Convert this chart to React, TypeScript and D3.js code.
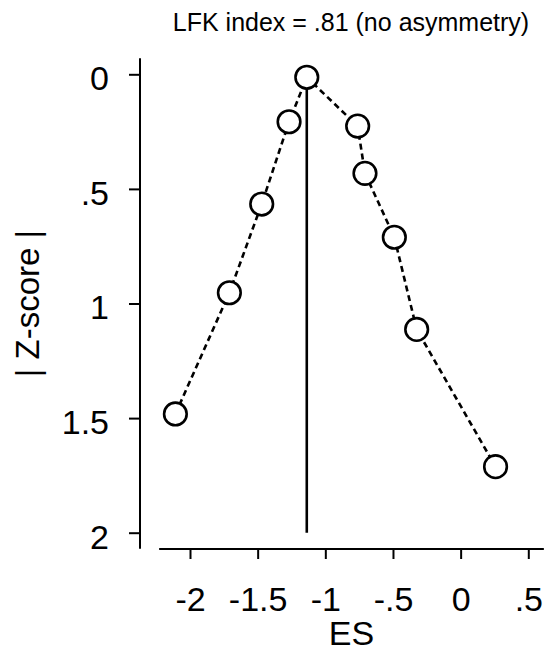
import React, { useRef, useEffect } from 'react';
import * as d3 from 'd3';

// Study effect sizes and |Z-scores| (Doi plot)
const effectSizes = [-2.108, -1.709, -1.470, -1.268, -1.137, -0.761, -0.707, -0.490, -0.325, 0.258];
const zScores = [1.482, 0.953, 0.566, 0.207, 0.013, 0.226, 0.432, 0.711, 1.113, 1.712];

const xTicks = [-2, -1.5, -1, -0.5, 0, 0.5];
const xTickLabels = ['-2', '-1.5', '-1', '-.5', '0', '.5'];
const yTicks = [0, 0.5, 1, 1.5, 2];
const yTickLabels = ['0', '.5', '1', '1.5', '2'];

const title = 'LFK index = .81 (no asymmetry)';
const xLabel = 'ES';
const yLabel = '| Z-score |';

const width = 551;
const height = 658;
const font = "'Liberation Sans', Arial, sans-serif";

function DoiPlot() {
  const svgRef = useRef(null);

  useEffect(() => {
    const svg = d3.select(svgRef.current);
    svg.selectAll('*').remove();

    const x = d3.scaleLinear().domain([-2, 0.5]).range([190, 528.3]);
    const y = d3.scaleLinear().domain([0, 2]).range([74.3, 532.7]);

    // plot region the axis lines span
    const xLo = -2.228, xHi = 0.615;
    const yLo = -0.07, yHi = 2.07;

    svg.append('rect')
      .attr('width', width)
      .attr('height', height)
      .attr('fill', '#fff');

    // y axis
    const yAxis = svg.append('g')
      .attr('transform', `translate(140,0)`)
      .call(d3.axisLeft(y)
        .tickValues(yTicks)
        .tickFormat((d, i) => yTickLabels[i])
        .tickSize(11)
        .tickSizeOuter(0)
        .tickPadding(20));
    yAxis.select('.domain').remove();
    yAxis.append('line')
      .attr('y1', y(yLo))
      .attr('y2', y(yHi))
      .attr('stroke', '#000')
      .attr('stroke-width', 2);
    yAxis.selectAll('line').attr('stroke', '#000').attr('stroke-width', 2);
    yAxis.selectAll('text')
      .attr('fill', '#000')
      .attr('dy', '0.45em')
      .style('font-family', font)
      .style('font-size', '34px');

    // x axis
    const xAxis = svg.append('g')
      .attr('transform', `translate(0,549)`)
      .call(d3.axisBottom(x)
        .tickValues(xTicks)
        .tickFormat((d, i) => xTickLabels[i])
        .tickSize(10)
        .tickSizeOuter(0)
        .tickPadding(28));
    xAxis.select('.domain').remove();
    xAxis.append('line')
      .attr('x1', x(xLo))
      .attr('x2', x(xHi))
      .attr('stroke', '#000')
      .attr('stroke-width', 2);
    xAxis.selectAll('line').attr('stroke', '#000').attr('stroke-width', 2);
    xAxis.selectAll('text')
      .attr('fill', '#000')
      .style('font-family', font)
      .style('font-size', '34px');

    // vertical line at the most precise study
    const topIdx = d3.minIndex(zScores);
    svg.append('line')
      .attr('x1', x(effectSizes[topIdx]))
      .attr('x2', x(effectSizes[topIdx]))
      .attr('y1', y(0))
      .attr('y2', y(2))
      .attr('stroke', '#000')
      .attr('stroke-width', 2.6);

    // dashed line through the studies, sorted by effect size
    const pts = effectSizes.map((es, i) => [es, zScores[i]]).sort((a, b) => a[0] - b[0]);
    const line = d3.line()
      .x(d => x(d[0]))
      .y(d => y(d[1]));
    svg.append('path')
      .datum(pts)
      .attr('fill', 'none')
      .attr('stroke', '#000')
      .attr('stroke-width', 2.6)
      .attr('stroke-dasharray', '6,4')
      .attr('d', line);

    // study markers
    svg.selectAll('.dot')
      .data(pts)
      .enter()
      .append('circle')
      .attr('class', 'dot')
      .attr('cx', d => x(d[0]))
      .attr('cy', d => y(d[1]))
      .attr('r', 11.3)
      .attr('fill', '#fff')
      .attr('stroke', '#000')
      .attr('stroke-width', 2.6);

    // title
    svg.append('text')
      .attr('x', 351)
      .attr('y', 31)
      .attr('text-anchor', 'middle')
      .style('font-family', font)
      .style('font-size', '25px')
      .text(title);

    // x label
    svg.append('text')
      .attr('x', (x(xLo) + x(xHi)) / 2)
      .attr('y', 645)
      .attr('text-anchor', 'middle')
      .style('font-family', font)
      .style('font-size', '34px')
      .text(xLabel);

    // y label
    svg.append('text')
      .attr('transform', 'rotate(-90)')
      .attr('x', -(y(yLo) + y(yHi)) / 2)
      .attr('y', 39)
      .attr('text-anchor', 'middle')
      .style('font-family', font)
      .style('font-size', '33px')
      .text(yLabel);
  }, []);

  return (
    <svg
      ref={svgRef}
      width={width}
      height={height}
      style={{ position: 'absolute', left: 0, top: 0, display: 'block' }}
    ></svg>
  );
}

export default function App() {
  return <DoiPlot />;
}
